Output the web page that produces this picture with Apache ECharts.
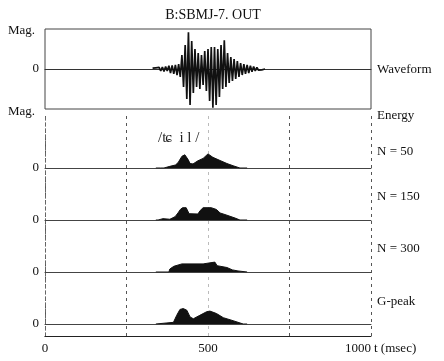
<!DOCTYPE html>
<html>
<head>
<meta charset="utf-8">
<script src="https://cdn.jsdelivr.net/npm/echarts@6/dist/echarts.min.js"></script>
<style>
  html, body { margin: 0; padding: 0; background: #fff; }
  #chart { width: 444px; height: 361px; }
</style>
</head>
<body>
<div id="chart"></div>
<script>
// time axis (msec)
var tickLabels = ['0', '500', '1000']

// waveform: sampled peaks (msec, normalised magnitude)
var waveTime = [330, 335, 340, 345, 350, 355, 360, 365, 370, 375, 380, 385, 390, 395, 400,
  405, 410, 415, 420, 425, 430, 435, 440, 445, 450, 455, 460, 465, 470, 475, 480, 485, 490,
  495, 500, 505, 510, 515, 520, 525, 530, 535, 540, 545, 550, 555, 560, 565, 570, 575, 580,
  585, 590, 595, 600, 605, 610, 615, 620, 625, 630, 635, 640, 645, 650, 655, 660, 665, 670, 675]
var waveValue = [0.02, -0.03, 0.03, -0.02, 0.04, -0.05, 0.05, -0.06, 0.06, -0.05, 0.08, -0.1, 0.09, -0.12, 0.1,
  -0.15, 0.12, -0.2, 0.35, -0.45, 0.6, -0.75, 0.92, -0.9, 0.7, -0.6, 0.5, -0.45, 0.4, -0.5, 0.35, -0.4, 0.45,
  -0.55, 0.5, -0.8, 0.55, -0.97, 0.55, -0.9, 0.5, -0.7, 0.6, -0.5, 0.72, -0.45, 0.4, -0.35, 0.3, -0.3, 0.25,
  -0.25, 0.2, -0.2, 0.15, -0.15, 0.12, -0.12, 0.1, -0.1, 0.08, -0.07, 0.06, -0.05, 0.04, -0.03, 0.02, -0.02, 0.01, 0]

// short-time energy, N = 50
var n50Time = [340, 355, 359, 365, 383, 400, 408, 420, 429, 439, 445, 454, 469, 485, 500, 515, 537, 558, 577, 598, 620]
var n50Value = [0, 0, 0.05, 0, 0.11, 0.2, 0.35, 0.78, 0.88, 0.56, 0.3, 0.27, 0.48, 0.64, 0.94, 0.71, 0.5, 0.3, 0.15, 0, 0]

// N = 150
var n150Time = [340, 347, 352, 362, 367, 383, 399, 408, 415, 422, 433, 437, 442, 447, 469, 476, 485, 510, 526, 537, 558, 583, 598, 620]
var n150Value = [0, 0, 0.09, 0.09, 0, 0.05, 0.22, 0.47, 0.7, 0.82, 0.82, 0.7, 0.42, 0.4, 0.4, 0.63, 0.82, 0.82, 0.7, 0.47, 0.32, 0.13, 0, 0]

// N = 300
var n300Time = [340, 380, 383, 395, 420, 485, 491, 521, 528, 558, 575, 592, 598, 620]
var n300Value = [0, 0, 0.2, 0.38, 0.54, 0.54, 0.66, 0.66, 0.42, 0.3, 0.14, 0.07, 0, 0]

// G-peak
var gpTime = [340, 374, 394, 404, 414, 424, 435, 445, 455, 475, 496, 506, 526, 547, 577, 608, 620]
var gpValue = [0, 0.07, 0.11, 0.58, 0.97, 1.03, 0.92, 0.47, 0.35, 0.58, 0.82, 0.86, 0.7, 0.42, 0.22, 0, 0]

var panelNames = ['N = 50', 'N = 150', 'N = 300', 'G-peak']

var SERIF = 'Liberation Serif, DejaVu Serif, serif'
var INK = '#111'
var L = 45
var R = 73

function pairs(ts, vs) {
  return ts.map(function (t, i) { return [t, vs[i]] })
}

var myChart = echarts.init(document.getElementById('chart'))

var zeroOnly = function (v) { return v === 0 ? '0' : '' }

var energySets = [[n50Time, n50Value], [n150Time, n150Value], [n300Time, n300Value], [gpTime, gpValue]]
var energyZero = [168, 220, 272, 324] // baseline of each energy panel (px)

var grids = [{ left: L, right: R, top: 29, height: 80, show: true, borderColor: '#444', borderWidth: 1 }]
var xAxes = [{
  gridIndex: 0, type: 'value', min: 0, max: 1000,
  axisLine: { onZero: true, lineStyle: { color: '#333', width: 1 } },
  axisTick: { show: false }, axisLabel: { show: false }, splitLine: { show: false }
}]
var yAxes = [{
  gridIndex: 0, type: 'value', min: -1, max: 1, interval: 1,
  axisLine: { show: false }, axisTick: { show: false }, splitLine: { show: false },
  axisLabel: { formatter: zeroOnly, fontFamily: SERIF, fontSize: 13, color: INK, margin: 6 }
}]
var series = [{
  type: 'line', xAxisIndex: 0, yAxisIndex: 0,
  data: pairs(waveTime, waveValue),
  symbol: 'none', lineStyle: { color: INK, width: 1.7 }, animation: false
}]

energySets.forEach(function (set, k) {
  var gi = k + 1
  grids.push({ left: L, right: R, top: energyZero[k] - 45, height: 45 })
  xAxes.push({
    gridIndex: gi, type: 'value', min: 0, max: 1000,
    axisLine: { lineStyle: { color: '#444', width: 1 } },
    axisTick: { show: false }, axisLabel: { show: false }, splitLine: { show: false }
  })
  yAxes.push({
    gridIndex: gi, type: 'value', min: 0, max: 3, interval: 3,
    axisLine: { show: false }, axisTick: { show: false }, splitLine: { show: false },
    axisLabel: { formatter: zeroOnly, fontFamily: SERIF, fontSize: 13, color: INK, margin: 6 }
  })
  series.push({
    type: 'line', xAxisIndex: gi, yAxisIndex: gi,
    data: pairs(set[0], set[1]),
    symbol: 'none', lineStyle: { color: INK, width: 1 },
    areaStyle: { color: INK, opacity: 1 }, animation: false
  })
})

// energy frame with the time axis
grids.push({ left: L, right: R, top: 116, height: 220 })
var fi = grids.length - 1
xAxes.push({
  gridIndex: fi, type: 'value', min: 0, max: 1000, interval: 250, position: 'bottom',
  axisLine: { lineStyle: { color: '#777', width: 1, type: 'dotted' } },
  axisTick: { show: false },
  axisLabel: {
    formatter: function (v) { return tickLabels.indexOf(String(v)) >= 0 ? String(v) : '' },
    fontFamily: SERIF, fontSize: 13, color: INK, margin: 6, alignMaxLabel: 'right'
  },
  splitLine: { show: true, lineStyle: { color: ['#555', '#555', '#bbb', '#555', '#555'], type: [3, 4], width: 1 } }
})
xAxes.push({
  gridIndex: fi, type: 'value', min: 0, max: 1000, position: 'top',
  axisLine: { lineStyle: { color: '#222', width: 1 } },
  axisTick: { show: false }, axisLabel: { show: false }, splitLine: { show: false }
})
yAxes.push({
  gridIndex: fi, type: 'value', min: 0, max: 1, position: 'left',
  axisLine: { show: true, lineStyle: { color: '#666', type: [3, 3] } },
  axisTick: { show: false }, axisLabel: { show: false }, splitLine: { show: false }
})
yAxes.push({
  gridIndex: fi, type: 'value', min: 0, max: 1, position: 'right',
  axisLine: { show: true, lineStyle: { color: '#666', type: [3, 3] } },
  axisTick: { show: false }, axisLabel: { show: false }, splitLine: { show: false }
})

var labelStyle = { fontFamily: SERIF, fontSize: 13, fill: INK, verticalAlign: 'middle' }
function txt(x, y, s, extra) {
  return { type: 'text', x: x, y: y, style: Object.assign({ text: s }, labelStyle, extra || {}) }
}

var labelY = [152, 197, 249, 302]
var graphics = [
  txt(8, 31, 'Mag.'),
  txt(8, 112, 'Mag.'),
  txt(377, 70, 'Waveform'),
  txt(377, 116, 'Energy'),
  txt(374, 349, 't (msec)'),
  txt(158, 138, '/ʨ  i l /', { fontSize: 15, fill: '#222' })
]
panelNames.forEach(function (n, i) { graphics.push(txt(377, labelY[i], n)) })

var options = {
  backgroundColor: '#fff',
  animation: false,
  title: {
    text: 'B:SBMJ-7. OUT', left: 208, top: 3, textAlign: 'center',
    textStyle: { fontFamily: SERIF, fontSize: 14, fontWeight: 'normal', color: INK }
  },
  grid: grids,
  xAxis: xAxes,
  yAxis: yAxes,
  series: series,
  graphic: graphics
}
myChart.setOption(options)
</script>
</body>
</html>
